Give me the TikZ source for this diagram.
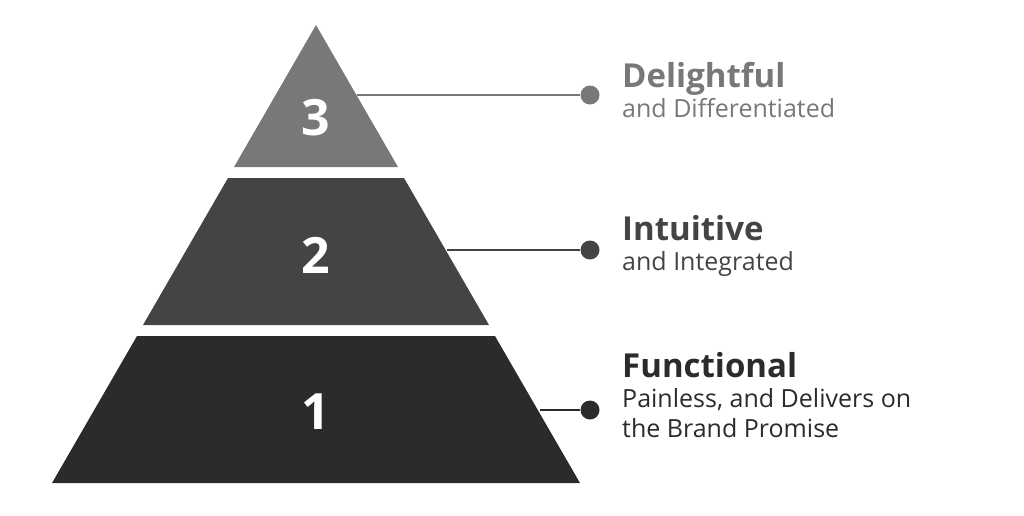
\documentclass[tikz,border=0pt]{standalone}
\usepackage{fontspec}
\setmainfont{Open Sans}
\begin{document}
\begin{tikzpicture}[x=1pt,y=-1pt,
  num/.style={text=white,font=\bfseries\fontsize{50}{50}\selectfont},
  ttl/.style={anchor=north west,align=left,inner sep=0pt,font=\fontsize{25}{30}\selectfont},
  dot/.style={circle,inner sep=0pt,minimum size=19pt},
  lead/.style={line width=1.2pt}]
\useasboundingbox (0,0) rectangle (1024,515);
\definecolor{cA}{HTML}{787878}\definecolor{cB}{HTML}{444444}\definecolor{cC}{HTML}{2B2B2B}
\fill[cA] (316,25) -- (398,167) -- (234,167) -- cycle;
\fill[cB] (228,178) -- (404,178) -- (489,325) -- (143,325) -- cycle;
\fill[cC] (137,336) -- (495,336) -- (580,483) -- (52,483) -- cycle;
\node[num] (n3) at (316,118) {3};
\node[num] (n2) at (316,255) {2};
\node[num] (n1) at (316,412) {1};
\coordinate (e3) at (357,95);\coordinate (e2) at (447,250);\coordinate (e1) at (540,410);
\node[dot,fill=cA] (d3) at (590,95) {};
\node[dot,fill=cB] (d2) at (590,250) {};
\node[dot,fill=cC] (d1) at (590,410) {};
\draw[lead,cA] (e3) -- (d3);
\draw[lead,cB] (e2) -- (d2);
\draw[lead,cC] (e1) -- (d1);
\node[ttl,text=cA] (t3) at (622,62) {{\bfseries\fontsize{33}{36}\selectfont Delightful}\\and Differentiated};
\node[ttl,text=cB] (t2) at (622,215) {{\bfseries\fontsize{33}{36}\selectfont Intuitive}\\and Integrated};
\node[ttl,text=cC] (t1) at (622,352) {{\bfseries\fontsize{33}{36}\selectfont Functional}\\Painless, and Delivers on\\the Brand Promise};
\end{tikzpicture}
\end{document}
